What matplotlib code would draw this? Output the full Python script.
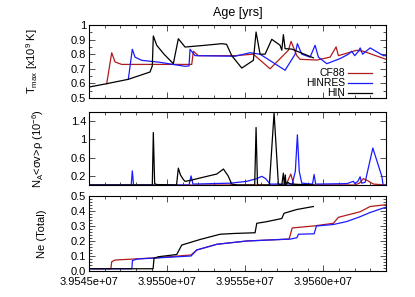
import matplotlib
matplotlib.use("Agg")
import matplotlib.pyplot as plt
from matplotlib.ticker import MultipleLocator, FixedLocator, FuncFormatter, FormatStrFormatter

plt.rcParams['font.family'] = ['Liberation Sans', 'DejaVu Sans']
plt.rcParams['mathtext.fontset'] = 'custom'
plt.rcParams['mathtext.rm'] = 'Liberation Sans'
plt.rcParams['mathtext.it'] = 'Liberation Sans:italic'

# ---------------- data (age in years) ----------------
# Panel 1: T_max [x10^9 K]
hin_t_x = [3.9545000e7, 3.9546133e7, 3.9547515e7, 3.9548904e7, 3.9549050e7, 3.9549115e7,
           3.9549333e7, 3.9549800e7, 3.9550395e7, 3.9550715e7, 3.9551144e7, 3.9552424e7,
           3.9553493e7, 3.9553800e7, 3.9554133e7, 3.9554773e7, 3.9555515e7, 3.9555688e7,
           3.9555944e7, 3.9556264e7, 3.9556693e7, 3.9557224e7, 3.9557333e7, 3.9557435e7,
           3.9557544e7, 3.9557973e7, 3.9559355e7]
hin_t_y = [0.575, 0.598, 0.628, 0.678, 0.72, 0.925,
           0.861, 0.80, 0.735, 0.906, 0.849, 0.861,
           0.872, 0.868, 0.79, 0.705, 0.758, 0.952,
           0.80, 0.80, 0.902, 0.861, 0.827, 0.934,
           0.838, 0.835, 0.775]

cf88_t_x = [3.9546133e7, 3.9546453e7, 3.9546664e7, 3.9547093e7, 3.9549000e7, 3.9551573e7,
            3.9551675e7, 3.9551995e7, 3.9554344e7, 3.9555515e7, 3.9556584e7, 3.9557755e7,
            3.9557928e7, 3.9558293e7, 3.9558504e7, 3.9559573e7, 3.9560424e7, 3.9560808e7,
            3.9560955e7, 3.9562133e7, 3.9562555e7, 3.9564000e7]
cf88_t_y = [0.598, 0.81, 0.747, 0.73, 0.73, 0.73,
            0.82, 0.79, 0.79, 0.80, 0.70, 0.827,
            0.888, 0.79, 0.765, 0.76, 0.78, 0.85,
            0.79, 0.827, 0.82, 0.765]

hinres_t_x = [3.9547515e7, 3.9547771e7, 3.9547944e7, 3.9548373e7, 3.9549500e7, 3.9551144e7,
              3.9551400e7, 3.9551464e7, 3.9551784e7, 3.9554344e7, 3.9555304e7, 3.9555944e7,
              3.9557544e7, 3.9558184e7, 3.9558331e7, 3.9558613e7, 3.9559144e7, 3.9559464e7,
              3.9559675e7, 3.9560213e7, 3.9561064e7, 3.9561595e7, 3.9561800e7, 3.9562000e7,
              3.9562235e7, 3.9562350e7, 3.9562500e7, 3.9562984e7, 3.9563835e7, 3.9564000e7]
hinres_t_y = [0.628, 0.834, 0.78, 0.758, 0.745, 0.717,
              0.72, 0.834, 0.79, 0.786, 0.81, 0.80,
              0.69, 0.80, 0.872, 0.80, 0.78, 0.861,
              0.78, 0.735, 0.77, 0.80, 0.82, 0.79,
              0.82, 0.843, 0.80, 0.843, 0.79, 0.79]

# Panel 2: N_A<sigma v>rho (10^-6)
hin_r_x = [3.9545000e7, 3.9549050e7, 3.9549115e7, 3.9549200e7, 3.9549333e7, 3.9550600e7,
           3.9550715e7, 3.9550850e7, 3.9551035e7, 3.9551144e7, 3.9551464e7, 3.9552424e7,
           3.9553173e7, 3.9553600e7, 3.9553900e7, 3.9554133e7, 3.9554500e7, 3.9555600e7,
           3.9555688e7, 3.9555780e7, 3.9556539e7, 3.9556840e7, 3.9557115e7, 3.9557333e7,
           3.9557435e7, 3.9557499e7, 3.9557560e7, 3.9557600e7, 3.9557700e7, 3.9557900e7,
           3.9559355e7]
hin_r_y = [0.0, 0.0, 1.15, 0.03, 0.01, 0.0,
           0.37, 0.22, 0.12, 0.08, 0.10, 0.18,
           0.24, 0.35, 0.2, 0.02, 0.0, 0.0,
           1.26, 0.0, 0.0, 1.58, 0.02, 0.0,
           0.26, 0.0, 0.22, 0.0, 0.06, 0.02,
           0.0]

hinres_r_x = [3.9545000e7, 3.9547700e7, 3.9547771e7, 3.9547850e7, 3.9551400e7, 3.9551528e7,
              3.9551650e7, 3.9554024e7, 3.9555093e7, 3.9555733e7, 3.9556053e7, 3.9556300e7,
              3.9556584e7, 3.9558000e7, 3.9558200e7, 3.9558331e7, 3.9558450e7, 3.9558613e7,
              3.9559300e7, 3.9559400e7, 3.9559500e7, 3.9561500e7, 3.9561915e7, 3.9562000e7,
              3.9562200e7, 3.9562344e7, 3.9562450e7, 3.9562664e7, 3.9563157e7, 3.9563733e7,
              3.9563816e7, 3.9564000e7]
hinres_r_y = [0.0, 0.0, 0.31, 0.0, 0.0, 0.2,
              0.02, 0.04, 0.08, 0.14, 0.19, 0.14,
              0.02, 0.02, 0.3, 1.1, 0.3, 0.04,
              0.02, 0.23, 0.02, 0.03, 0.08, 0.03,
              0.08, 0.18, 0.04, 0.06, 0.81, 0.19,
              0.0, 0.0]

cf88_r_x = [3.9545000e7, 3.9557600e7, 3.9557909e7, 3.9558100e7, 3.9562000e7, 3.9562300e7,
            3.9562555e7, 3.9562800e7, 3.9563200e7, 3.9564000e7]
cf88_r_y = [0.0, 0.0, 0.24, 0.01, 0.0, 0.04,
            0.14, 0.1, 0.02, 0.0]

# Panel 3: Ne (Total)
hin_ne_x = [3.9545000e7, 3.9549100e7, 3.9549160e7, 3.9549435e7, 3.9550613e7, 3.9550933e7,
            3.9552104e7, 3.9553384e7, 3.9554235e7, 3.9555624e7, 3.9555733e7, 3.9556373e7,
            3.9557333e7, 3.9557480e7, 3.9558293e7, 3.9559355e7]
hin_ne_y = [0.015, 0.015, 0.085, 0.095, 0.11, 0.173,
            0.21, 0.245, 0.25, 0.255, 0.318, 0.329,
            0.35, 0.385, 0.41, 0.43]

cf88_ne_x = [3.9545000e7, 3.9546400e7, 3.9546453e7, 3.9546664e7, 3.9549435e7, 3.9551528e7,
             3.9551893e7, 3.9553173e7, 3.9555093e7, 3.9557800e7, 3.9558000e7, 3.9559355e7,
             3.9560635e7, 3.9560955e7, 3.9562344e7, 3.9562984e7, 3.9563835e7, 3.9564000e7]
cf88_ne_y = [0.015, 0.015, 0.062, 0.073, 0.089, 0.107,
             0.14, 0.178, 0.20, 0.213, 0.287, 0.30,
             0.318, 0.358, 0.395, 0.43, 0.44, 0.442]

hinres_ne_x = [3.9545000e7, 3.9547740e7, 3.9547780e7, 3.9548100e7, 3.9551528e7, 3.9551893e7,
               3.9553173e7, 3.9555093e7, 3.9557900e7, 3.9558300e7, 3.9558400e7, 3.9559400e7,
               3.9559550e7, 3.9560635e7, 3.9561493e7, 3.9562344e7, 3.9562984e7, 3.9563835e7,
               3.9564000e7]
hinres_ne_y = [0.015, 0.015, 0.07, 0.08, 0.10, 0.14,
               0.178, 0.20, 0.213, 0.222, 0.245, 0.248,
               0.30, 0.31, 0.33, 0.362, 0.39, 0.42,
               0.425]

series_names = ["CF88", "HINRES", "HIN"]
series_colors = ["#b01c1c", "#1a1aff", "#000000"]

x_min, x_max = 3.9545e7, 3.9564e7
x_major = [3.9545e7, 3.9550e7, 3.9555e7, 3.9560e7]

# ---------------- figure ----------------
fig = plt.figure(figsize=(4.15, 2.97), dpi=100)
L, W = 89 / 415, 297 / 415
ax1 = fig.add_axes([L, 1 - 98 / 297, W, 73 / 297])
ax2 = fig.add_axes([L, 1 - 185 / 297, W, 73 / 297])
ax3 = fig.add_axes([L, 1 - 271 / 297, W, 75 / 297])

lw = 0.9
for ax, data in [
    (ax1, [(cf88_t_x, cf88_t_y), (hinres_t_x, hinres_t_y), (hin_t_x, hin_t_y)]),
    (ax2, [(cf88_r_x, cf88_r_y), (hinres_r_x, hinres_r_y), (hin_r_x, hin_r_y)]),
    (ax3, [(cf88_ne_x, cf88_ne_y), (hinres_ne_x, hinres_ne_y), (hin_ne_x, hin_ne_y)]),
]:
    for (xs, ys), name, c in zip(data, series_names, series_colors):
        ax.plot(xs, ys, color=c, lw=lw, label=name)
    ax.set_xlim(x_min, x_max)
    ax.xaxis.set_major_locator(FixedLocator(x_major))
    ax.xaxis.set_minor_locator(MultipleLocator(1000))
    ax.tick_params(which='both', direction='in', top=True, right=True, labelsize=8,
                   width=0.6, color='#333333', pad=2)
    ax.tick_params(which='major', length=4)
    ax.tick_params(which='minor', length=2)
    for s in ax.spines.values():
        s.set_linewidth(0.8)

ax1.set_ylim(0.5, 1.0)
ax1.yaxis.set_major_locator(MultipleLocator(0.1))
ax1.yaxis.set_minor_locator(MultipleLocator(0.05))
ax1.yaxis.set_major_formatter(FuncFormatter(lambda v, p: "%g" % round(v, 2)))
ax1.tick_params(axis='x', labelbottom=False)

ax2.set_ylim(0, 1.6)
ax2.yaxis.set_major_locator(FixedLocator([0.2, 0.6, 1.0, 1.4]))
ax2.yaxis.set_major_formatter(FuncFormatter(lambda v, p: "%g" % round(v, 2)))
ax2.tick_params(axis='x', labelbottom=False)

ax3.set_ylim(0, 0.5)
ax3.yaxis.set_major_locator(MultipleLocator(0.1))
ax3.yaxis.set_minor_locator(MultipleLocator(0.02))
ax3.yaxis.set_major_formatter(FormatStrFormatter('%.1f'))
ax3.xaxis.set_major_formatter(FuncFormatter(lambda v, p: "%.4e" % v))
ax3.tick_params(axis='x', pad=4)

ax1.set_ylabel(r"T$_{\mathrm{max}}$ [x10$^{9}$ K]", fontsize=8)
ax2.set_ylabel(r"N$_{\mathrm{A}}$<σv>ρ (10$^{-6}$)", fontsize=8)
ax3.set_ylabel("Ne (Total)", fontsize=8)
ax1.yaxis.set_label_coords((40 - 89) / 297, 0.5)
ax2.yaxis.set_label_coords((46 - 89) / 297, 0.5)
ax3.yaxis.set_label_coords((47 - 89) / 297, 0.5)

# gnuplot-style key: right-aligned labels, sample line to the right
key_rows = [0.342, 0.205, 0.068]
for name, c, yk in zip(series_names, series_colors, key_rows):
    ax1.text(0.862, yk, name, transform=ax1.transAxes, ha='right', va='center',
             fontsize=7.5)
    ax1.plot([0.872, 0.953], [yk, yk], transform=ax1.transAxes, color=c, lw=lw)

fig.text(237.5 / 415, 1 - 13 / 297, "Age [yrs]", ha='center', va='center', fontsize=9)

fig.savefig("out.png", dpi=100)
